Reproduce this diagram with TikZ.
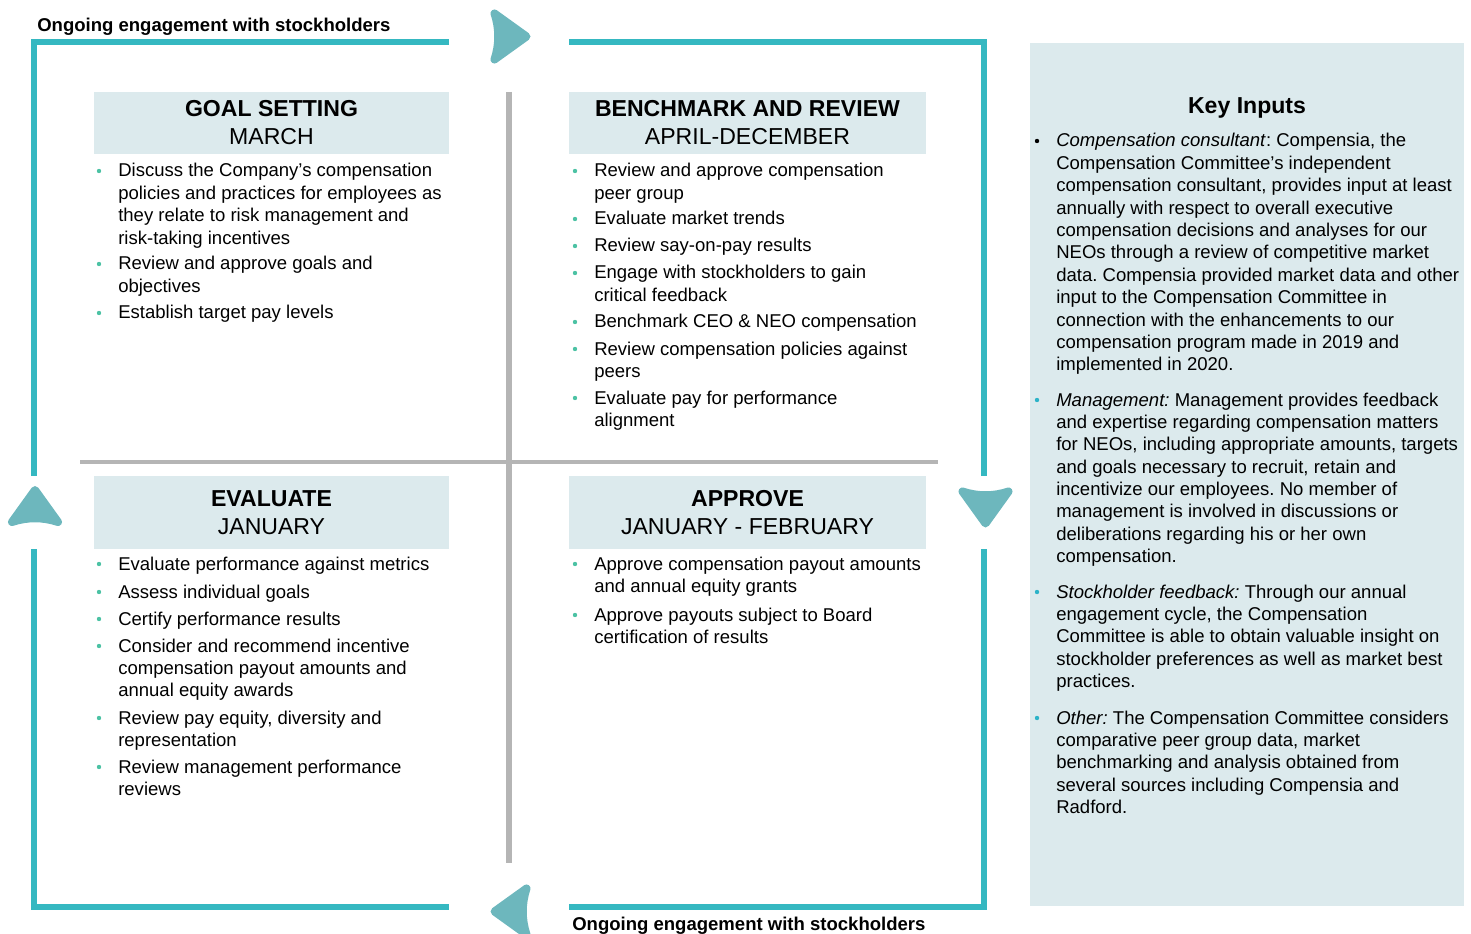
\documentclass[tikz,border=0pt]{standalone}
\usepackage{fontspec}
\setmainfont{Liberation Sans}
\frenchspacing
\definecolor{framec}{HTML}{35B8C1}
\definecolor{arrowc}{HTML}{6DB7BD}
\definecolor{boxc}{HTML}{DCEAED}
\definecolor{grayc}{HTML}{B5B5B5}
\definecolor{bulA}{HTML}{4CC2A4}
\definecolor{bulB}{HTML}{2CB3C8}
\newcommand\bodyf{\fontsize{13.9}{16.8}\selectfont}
\newcommand\headf{\fontsize{17.3}{21.3}\selectfont}
\tikzset{
  itm/.style={anchor=base west, inner sep=0pt, font=\bodyf},
  headtxt/.style={anchor=base, inner sep=0pt, align=center, font=\headf},
  hbox/.style={fill=boxc, draw=none},
  framel/.style={draw=framec, line width=4.5pt, line cap=butt, line join=miter},
  grayl/.style={draw=grayc, line cap=butt},
  flowarrow/.pic={\filldraw[fill=arrowc, draw=arrowc, line width=6pt, line join=round]
     (16,0) -- (-16,-23) .. controls (-11,-8) and (-11,8) .. (-16,23) -- cycle;}
}
\newcommand\bl[4][bulA]{%
  \fill[#1] (#2-19,#3-6) circle[radius=2.2];
  \node[itm] at (#2,#3) {\begin{tabular}[t]{@{}l@{}}#4\end{tabular}};}
\begin{document}
\begin{tikzpicture}[x=0.75pt,y=-0.75pt]
\useasboundingbox (0,0) rectangle (1471,934);
% key inputs panel
\fill[boxc] (1030,43) rectangle (1464,906);
% frame
\draw[framel] (449,42) -- (34,42) -- (34,476);
\draw[framel] (34,549) -- (34,907) -- (449,907);
\draw[framel] (569,42) -- (984,42) -- (984,476);
\draw[framel] (984,549) -- (984,907) -- (569,907);
% arrows
\pic at (510.5,36.5) {flowarrow};
\pic[rotate=-90] at (985.5,507.5) {flowarrow};
\pic[rotate=90] at (35,506) {flowarrow};
\pic[rotate=180] at (510.5,911.5) {flowarrow};
% grid lines
\draw[grayl, line width=4.5pt] (509,92) -- (509,863);
\draw[grayl, line width=3pt] (80,462) -- (938,462);
% labels
\node[anchor=base west, inner sep=0pt, font=\bodyf\bfseries] (topl) at (37,32) {Ongoing engagement with stockholders};
\node[anchor=base west, inner sep=0pt, font=\bodyf\bfseries] (botl) at (572,930) {Ongoing engagement with stockholders};
% header boxes
\fill[hbox] (94,92) rectangle (449,154);
\fill[hbox] (569,92) rectangle (926,154);
\fill[hbox] (94,476) rectangle (449,549);
\fill[hbox] (569,476) rectangle (926,549);
\node[headtxt] (h1) at (271.5,145) {\textbf{GOAL SETTING}\\MARCH};
\node[headtxt] (h2) at (747.5,145) {\textbf{BENCHMARK AND REVIEW}\\APRIL-DECEMBER};
\node[headtxt] (h3) at (271.5,534.5) {\textbf{EVALUATE}\\JANUARY};
\node[headtxt] (h4) at (747.5,534.5) {\textbf{APPROVE}\\JANUARY - FEBRUARY};
% goal setting
\bl{118}{177}{Discuss the Company’s compensation\\policies and practices for employees as\\they relate to risk management and\\risk-taking incentives}
\bl{118}{270}{Review and approve goals and\\objectives}
\bl{118}{319}{Establish target pay levels}
% benchmark
\bl{594}{177}{Review and approve compensation\\peer group}
\bl{594}{225}{Evaluate market trends}
\bl{594}{252}{Review say-on-pay results}
\bl{594}{279}{Engage with stockholders to gain\\critical feedback}
\bl{594}{328}{Benchmark CEO \& NEO compensation}
\bl{594}{355}{Review compensation policies against\\peers}
\bl{594}{404}{Evaluate pay for performance\\alignment}
% evaluate
\bl{118}{570}{Evaluate performance against metrics}
\bl{118}{598}{Assess individual goals}
\bl{118}{625}{Certify performance results}
\bl{118}{652}{Consider and recommend incentive\\compensation payout amounts and\\annual equity awards}
\bl{118}{724}{Review pay equity, diversity and\\representation}
\bl{118}{773}{Review management performance\\reviews}
% approve
\bl{594}{570}{Approve compensation payout amounts\\and annual equity grants}
\bl{594}{621}{Approve payouts subject to Board\\certification of results}
% key inputs
\node[anchor=base, inner sep=0pt, font=\headf\bfseries] (kt) at (1247,114) {Key Inputs};
\bl[black]{1056}{147}{\textit{Compensation consultant}: Compensia, the\\Compensation Committee’s independent\\compensation consultant, provides input at least\\annually with respect to overall executive\\compensation decisions and analyses for our\\NEOs through a review of competitive market\\data. Compensia provided market data and other\\input to the Compensation Committee in\\connection with the enhancements to our\\compensation program made in 2019 and\\implemented in 2020.}
\bl[bulB]{1056}{406}{\textit{Management:} Management provides feedback\\and expertise regarding compensation matters\\for NEOs, including appropriate amounts, targets\\and goals necessary to recruit, retain and\\incentivize our employees. No member of\\management is involved in discussions or\\deliberations regarding his or her own\\compensation.}
\bl[bulB]{1056}{598}{\textit{Stockholder feedback:} Through our annual\\engagement cycle, the Compensation\\Committee is able to obtain valuable insight on\\stockholder preferences as well as market best\\practices.}
\bl[bulB]{1056}{724}{\textit{Other:} The Compensation Committee considers\\comparative peer group data, market\\benchmarking and analysis obtained from\\several sources including Compensia and\\Radford.}
\end{tikzpicture}
\end{document}
